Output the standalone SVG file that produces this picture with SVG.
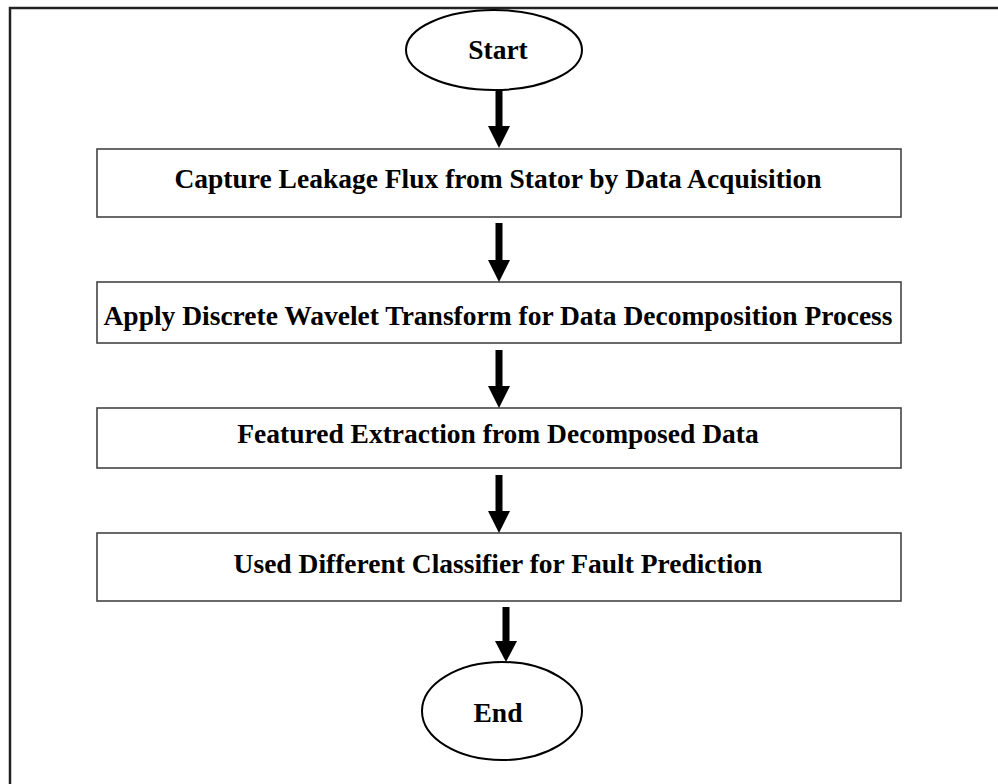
<svg xmlns="http://www.w3.org/2000/svg" width="998" height="784" viewBox="0 0 998 784">
<style>
.frame{fill:none;stroke:#222;stroke-width:2.5}
.box{fill:#fff;stroke:#444;stroke-width:1.6}
.oval{fill:#fff;stroke:#000;stroke-width:2}
.lbl{font-family:"Liberation Serif","Times New Roman",serif;font-weight:bold;font-size:27.5px;fill:#000;text-anchor:middle}
.shaft{stroke:#000;stroke-width:7}
.head{fill:#000}
</style>
<rect class="frame" x="10" y="8" width="1000" height="800"/>
<g id="start"><ellipse class="oval" cx="494" cy="50" rx="88" ry="40"/><text class="lbl" x="498" y="59">Start</text></g>
<g id="step1"><rect class="box" x="97" y="149" width="804" height="68"/><text class="lbl" x="498" y="188">Capture Leakage Flux from Stator by Data Acquisition</text></g>
<g id="step2"><rect class="box" x="97" y="282" width="804" height="61"/><text class="lbl" x="498" y="325">Apply Discrete Wavelet Transform for Data Decomposition Process</text></g>
<g id="step3"><rect class="box" x="97" y="408" width="804" height="60"/><text class="lbl" x="498" y="443">Featured Extraction from Decomposed Data</text></g>
<g id="step4"><rect class="box" x="97" y="533" width="804" height="68"/><text class="lbl" x="498" y="573">Used Different Classifier for Fault Prediction</text></g>
<g id="end"><ellipse class="oval" cx="502" cy="711" rx="80" ry="49"/><text class="lbl" x="498" y="722">End</text></g>
<g id="connectors">
<line class="shaft" x1="499" y1="90" x2="499" y2="128"/><polygon class="head" points="488,126 510,126 499,148"/>
<line class="shaft" x1="499" y1="223" x2="499" y2="262"/><polygon class="head" points="488,260 510,260 499,282"/>
<line class="shaft" x1="499" y1="350" x2="499" y2="388"/><polygon class="head" points="488,386 510,386 499,408"/>
<line class="shaft" x1="499" y1="475" x2="499" y2="513"/><polygon class="head" points="488,511 510,511 499,533"/>
<line class="shaft" x1="506" y1="607" x2="506" y2="643"/><polygon class="head" points="495,641 517,641 506,662"/>
</g>
</svg>
